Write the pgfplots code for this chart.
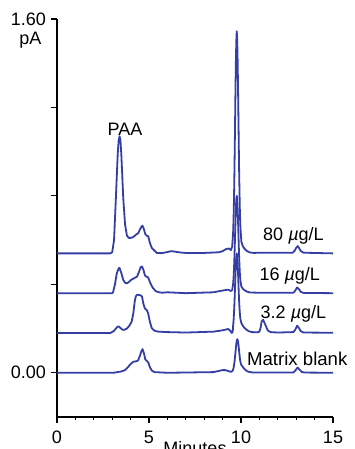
\documentclass[border=0pt]{standalone}
\usepackage{fontspec}
\setmainfont{Liberation Sans}
\usepackage{pgfplots}
\pgfplotsset{compat=1.18}
\definecolor{trace}{RGB}{52,62,165}

\pgfplotstableread{
x y
0 0.540
2.9 0.540
3.0 0.545
3.1 0.600
3.2 0.790
3.3 0.990
3.35 1.050
3.4 1.070
3.45 1.050
3.5 0.980
3.6 0.790
3.7 0.670
3.8 0.620
3.9 0.610
4.0 0.610
4.1 0.612
4.2 0.618
4.3 0.625
4.42 0.632
4.52 0.650
4.6 0.662
4.65 0.665
4.72 0.650
4.8 0.627
4.88 0.620
4.96 0.617
5.05 0.587
5.15 0.565
5.25 0.556
5.42 0.542
5.7 0.541
6.0 0.546
6.2 0.550
6.4 0.548
6.7 0.544
7.0 0.542
8.0 0.542
8.8 0.545
9.0 0.550
9.2 0.560
9.35 0.562
9.45 0.555
9.52 0.570
9.57 0.630
9.595 0.695
9.62 0.790
9.645 0.920
9.67 1.080
9.695 1.250
9.72 1.400
9.745 1.500
9.77 1.545
9.795 1.500
9.82 1.400
9.845 1.250
9.87 1.090
9.895 0.930
9.92 0.810
9.945 0.710
9.97 0.655
10.02 0.593
10.1 0.572
10.2 0.560
10.3 0.552
10.4 0.547
10.5 0.544
10.7 0.542
11.0 0.543
12.8 0.543
12.9 0.550
13.0 0.565
13.08 0.573
13.15 0.565
13.25 0.550
13.4 0.543
15.0 0.540
}\tA

\pgfplotstableread{
x y
0 0.360
3.0 0.360
3.05 0.365
3.15 0.400
3.25 0.450
3.35 0.472
3.4 0.474
3.5 0.450
3.6 0.420
3.7 0.407
3.8 0.405
3.9 0.410
4.0 0.418
4.1 0.424
4.2 0.428
4.35 0.435
4.45 0.455
4.55 0.478
4.62 0.481
4.7 0.465
4.78 0.440
4.85 0.435
4.95 0.432
5.05 0.410
5.2 0.385
5.35 0.370
5.5 0.365
5.7 0.362
6.0 0.364
7.0 0.360
8.5 0.364
9.0 0.372
9.3 0.376
9.45 0.370
9.52 0.374
9.57 0.400
9.595 0.428
9.62 0.470
9.645 0.528
9.67 0.597
9.695 0.671
9.72 0.737
9.745 0.783
9.77 0.800
9.795 0.783
9.82 0.737
9.845 0.671
9.87 0.600
9.895 0.532
9.92 0.480
9.945 0.440
9.97 0.415
10.02 0.390
10.1 0.380
10.2 0.373
10.3 0.368
10.4 0.365
10.5 0.363
11.0 0.362
12.85 0.362
12.95 0.372
13.05 0.386
13.15 0.378
13.25 0.366
13.4 0.361
15.0 0.360
}\tB

\pgfplotstableread{
x y
0 0.180
2.9 0.180
2.97 0.183
3.1 0.190
3.25 0.205
3.33 0.210
3.42 0.205
3.55 0.195
3.65 0.194
3.8 0.200
3.95 0.215
4.06 0.232
4.15 0.270
4.22 0.320
4.28 0.345
4.35 0.353
4.45 0.352
4.55 0.350
4.62 0.345
4.7 0.310
4.78 0.290
4.87 0.285
4.95 0.270
5.05 0.230
5.15 0.202
5.3 0.190
5.5 0.186
6.0 0.184
7.0 0.182
8.5 0.186
9.0 0.192
9.3 0.198
9.42 0.190
9.5 0.180
9.55 0.186
9.57 0.211
9.595 0.234
9.62 0.270
9.645 0.317
9.67 0.374
9.695 0.435
9.72 0.489
9.745 0.526
9.77 0.540
9.795 0.526
9.82 0.489
9.845 0.440
9.87 0.380
9.895 0.328
9.92 0.290
9.945 0.260
9.97 0.242
10.02 0.225
10.1 0.212
10.2 0.202
10.3 0.195
10.4 0.189
10.5 0.186
10.6 0.184
10.9 0.183
11.0 0.186
11.07 0.205
11.12 0.232
11.2 0.240
11.28 0.225
11.36 0.210
11.45 0.192
11.6 0.184
12.0 0.182
12.85 0.184
12.95 0.195
13.05 0.213
13.15 0.202
13.25 0.188
13.4 0.182
15.0 0.181
}\tC

\pgfplotstableread{
x y
0 0.000
3.1 0.000
3.2 0.002
3.5 0.006
3.7 0.012
3.85 0.025
4.0 0.040
4.15 0.050
4.3 0.052
4.4 0.055
4.5 0.075
4.6 0.100
4.65 0.107
4.72 0.090
4.8 0.060
4.9 0.052
4.97 0.045
5.05 0.025
5.15 0.010
5.3 0.003
6.0 0.000
8.5 0.003
9.0 0.012
9.15 0.012
9.35 0.007
9.45 0.004
9.5 0.006
9.55 0.010
9.6 0.023
9.65 0.051
9.7 0.094
9.725 0.115
9.75 0.134
9.775 0.147
9.8 0.152
9.825 0.147
9.85 0.135
9.875 0.117
9.9 0.096
9.95 0.058
10.0 0.038
10.1 0.026
10.2 0.016
10.3 0.009
10.4 0.005
10.5 0.003
10.7 0.001
12.85 0.001
12.95 0.010
13.08 0.024
13.18 0.014
13.3 0.004
13.45 0.001
15.0 0.000
}\tD

\begin{document}
\begin{tikzpicture}
\useasboundingbox (-28.5pt,-16pt) rectangle (148.5pt,208.5pt);
\begin{axis}[
  at={(0,0)}, anchor=south west,
  scale only axis,
  width=138pt, height=199pt,
  xmin=0, xmax=15, ymin=-0.2, ymax=1.6,
  axis x line*=bottom, axis y line*=left,
  axis line style={line width=0.7pt},
  every tick/.style={black, line width=0.6pt},
  tick align=outside,
  xtick={0,5,10,15}, xticklabels={0,5,10,15},
  minor x tick num=4,
  major tick length=3pt, minor tick length=1.3pt,
  ytick={0,0.4,0.8,1.2,1.6}, yticklabels={0.00,,,,1.60},
  tick label style={font=\fontsize{9}{10}\selectfont},
  yticklabel style={xshift=1pt},
  xticklabel style={yshift=-0.5pt},
  xlabel={Minutes},
  xlabel style={font=\fontsize{9}{10}\selectfont, at={(axis description cs:0.5,0)}, anchor=north, yshift=-8.5pt},
  clip=false,
]
\addplot[trace, no markers, line width=0.9pt, line join=round] table {\tA};
\addplot[trace, no markers, line width=0.9pt, line join=round] table {\tB};
\addplot[trace, no markers, line width=0.9pt, line join=round] table {\tC};
\addplot[trace, no markers, line width=0.9pt, line join=round] table {\tD};
\node[font=\fontsize{9}{10}\selectfont, anchor=east] at (axis cs:0,1.6) [xshift=-4.3pt, yshift=-10.5pt] {pA};
\node[font=\fontsize{9}{10}\selectfont] at (axis cs:3.7,1.10) {PAA};
\node[font=\fontsize{9}{10}\selectfont] at (axis cs:12.85,0.620) {80 {\itshape µ}g/L};
\node[font=\fontsize{9}{10}\selectfont] at (axis cs:12.65,0.440) {16 {\itshape µ}g/L};
\node[font=\fontsize{9}{10}\selectfont] at (axis cs:12.85,0.268) {3.2 {\itshape µ}g/L};
\node[font=\fontsize{9.3}{10}\selectfont, anchor=west] at (axis cs:9.95,0.062) {Matrix blank};
\end{axis}
\end{tikzpicture}
\end{document}
